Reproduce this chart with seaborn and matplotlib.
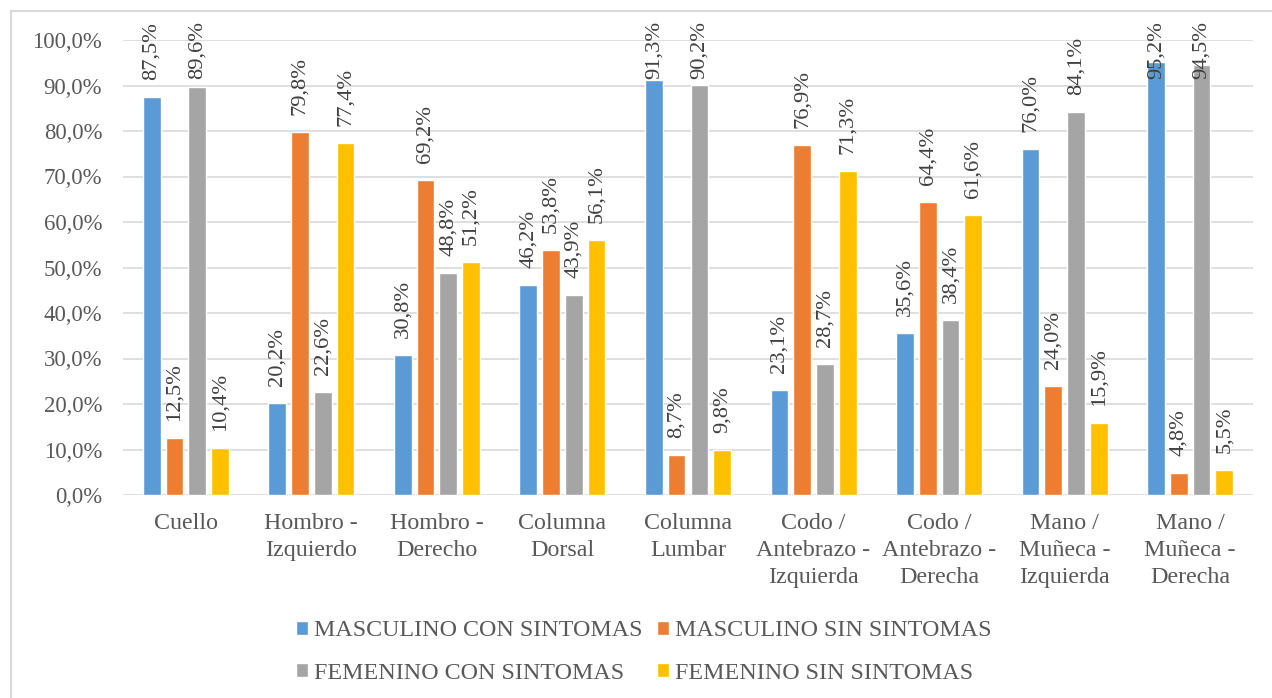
import matplotlib
matplotlib.use("Agg")
import matplotlib.pyplot as plt
from matplotlib.patches import Rectangle
from matplotlib.transforms import offset_copy
import seaborn as sns
import pandas as pd

categories = ["Cuello", "Hombro -\nIzquierdo", "Hombro -\nDerecho", "Columna\nDorsal",
              "Columna\nLumbar", "Codo /\nAntebrazo -\nIzquierda", "Codo /\nAntebrazo -\nDerecha",
              "Mano /\nMuñeca -\nIzquierda", "Mano /\nMuñeca -\nDerecha"]
series = ["MASCULINO CON SINTOMAS", "MASCULINO SIN SINTOMAS",
          "FEMENINO CON SINTOMAS", "FEMENINO SIN SINTOMAS"]
masc_con = [87.5, 20.2, 30.8, 46.2, 91.3, 23.1, 35.6, 76.0, 95.2]
masc_sin = [12.5, 79.8, 69.2, 53.8, 8.7, 76.9, 64.4, 24.0, 4.8]
fem_con = [89.6, 22.6, 48.8, 43.9, 90.2, 28.7, 38.4, 84.1, 94.5]
fem_sin = [10.4, 77.4, 51.2, 56.1, 9.8, 71.3, 61.6, 15.9, 5.5]
colors = ["#5B9BD5", "#ED7D31", "#A5A5A5", "#FFC000"]

rows = []
for name, vals in zip(series, [masc_con, masc_sin, fem_con, fem_sin]):
    for cat, v in zip(categories, vals):
        rows.append({"cat": cat, "serie": name, "valor": v / 100.0})
df = pd.DataFrame(rows)

sns.set_theme(style="white")
plt.rcParams["font.family"] = ["Liberation Serif", "DejaVu Serif"]

W, H = 1272, 698
fig = plt.figure(figsize=(W / 100, H / 100), dpi=100)
ax = fig.add_axes([123 / W, 1 - 495 / H, (1253 - 123) / W, (495 - 40) / H])

# chart-area frame
fig.patches.append(Rectangle((11 / W, -0.1), 1.2, 1 - 11 / H + 0.1, transform=fig.transFigure,
                             fill=False, edgecolor="#D9D9D9", linewidth=1.5, zorder=0))

sns.barplot(data=df, x="cat", y="valor", hue="serie", order=categories, hue_order=series,
            palette=colors, width=0.725, gap=0.22, saturation=1, errorbar=None,
            ax=ax, legend=True, zorder=3)

ax.set_ylim(0, 1.0)
ax.set_xlim(-0.5, len(categories) - 0.5)
ax.set_yticks([i / 10 for i in range(11)])
ax.set_yticklabels([f"{i * 10},0%" for i in range(11)])
ax.yaxis.grid(True, color="#D9D9D9", linewidth=1.2)
ax.set_axisbelow(True)
for s in ax.spines.values():
    s.set_visible(False)
ax.set_xlabel("")
ax.set_ylabel("")
ax.tick_params(axis="both", length=0, colors="#595959")
ax.tick_params(axis="y", labelsize=16.4, pad=15)
ax.tick_params(axis="x", labelsize=17.3, pad=13)
for t in ax.get_xticklabels():
    t.set_linespacing(1.36)
    t.set_verticalalignment("top")

# value labels, kept inside the chart area
fig.canvas.draw()
renderer = fig.canvas.get_renderer()
top_limit_px = H - 21
for cont in ax.containers:
    for bar in cont:
        v = bar.get_height()
        x = bar.get_x() + bar.get_width() / 2
        txt = ax.text(x, v, f"{v * 100:.1f}%".replace(".", ","), rotation=90,
                      ha="center", va="bottom", fontsize=16.2, color="#404040", zorder=5,
                      transform=offset_copy(ax.transData, fig=fig, x=0, y=17, units="dots"))
        bb = txt.get_window_extent(renderer)
        if bb.y1 > top_limit_px:
            shift = bb.y1 - top_limit_px
            txt.set_transform(offset_copy(ax.transData, fig=fig, x=0, y=17 - shift, units="dots"))

handles, labels = ax.get_legend_handles_labels()
ax.legend_.remove()
order = [0, 2, 1, 3]
fig.legend([handles[i] for i in order], [labels[i] for i in order], loc="center",
           bbox_to_anchor=(644 / W, 1 - 652 / H), ncol=2,
           frameon=False, fontsize=17.3, handlelength=0.5, handleheight=0.5,
           handletextpad=0.25, columnspacing=0.6, labelspacing=0.9,
           labelcolor="#595959")

fig.savefig("out.png", dpi=100)
